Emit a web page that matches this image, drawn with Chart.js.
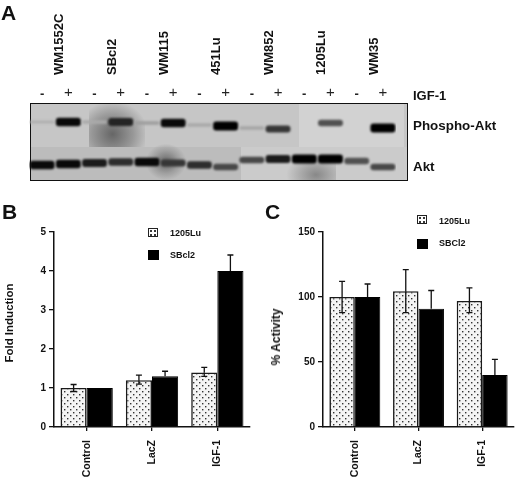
<!DOCTYPE html>
<html>
<head>
<meta charset="utf-8">
<script src="https://cdn.jsdelivr.net/npm/chart.js@4"></script>
<style>
    html, body { margin: 0; background: #fff; }
    body { position: relative; width: 520px; height: 479px; overflow: hidden; font-family: "Liberation Sans", Arial, sans-serif; font-weight: bold; color: #111; }
    .box { position: absolute; }
    .txt { position: absolute; white-space: nowrap; line-height: 1; }
    .up { transform: translate(-50%, -50%) rotate(-90deg); }
    #blot { position: absolute; left: 30px; top: 103px; width: 376px; height: 76px; border: 1.5px solid #111; overflow: hidden; background: #c6c6c6; }
    #blot div { position: absolute; }
</style>
</head>
<body>
<div id="blot">
    <div style="left:0;top:43px;width:210px;height:34px;background:#bcbcbc"></div>
    <div style="left:210px;top:43px;width:170px;height:34px;background:#cbcbcb"></div>
    <div style="left:268px;top:0;width:105px;height:43px;background:#d2d2d2"></div>
    <div style="left:58px;top:0;width:56px;height:43px;background:radial-gradient(ellipse at 42% 70%, #666 0%, #989898 45%, #c6c6c6 78%)"></div>
    <div style="left:115px;top:40px;width:40px;height:36px;background:radial-gradient(ellipse at 50% 50%, #666 0%, #a0a0a0 45%, rgba(180,180,180,0) 72%)"></div>
    <div style="left:255px;top:50px;width:50px;height:26px;background:radial-gradient(ellipse at 60% 80%, #888 0%, rgba(200,200,200,0) 70%)"></div>
</div>
<div class="box" style="left:0;top:0;width:520px;height:190px"><canvas id="chartA"></canvas></div>
<div class="box" style="left:0;top:195px;width:260px;height:284px"><canvas id="chartB"></canvas></div>
<div class="box" style="left:260px;top:195px;width:260px;height:284px"><canvas id="chartC"></canvas></div>
<div id="labels"></div>

<script>
const font = '"Liberation Sans", Arial, sans-serif';

// panel A
const cellLines = ['WM1552C', 'SBcl2', 'WM115', '451Lu', 'WM852', '1205Lu', 'WM35'];
const lanes = ['-', '+', '-', '+', '-', '+', '-', '+', '-', '+', '-', '+', '-', '+'];
const phosphoDensity = [0.03, 0.95, 0.05, 0.8, 0.12, 0.95, 0.06, 1, 0.08, 0.7, 0, 0.55, 0, 1];
const phosphoMigration = [19, 19, 19, 19, 20, 20, 22, 23, 25, 26, 20, 20, 22, 25];
const aktDensity = [0.95, 0.95, 0.85, 0.75, 0.95, 0.7, 0.75, 0.6, 0.6, 0.85, 1, 1, 0.55, 0.6];
const aktMigration = [62, 61, 60, 59, 59, 60, 62, 64, 57, 56, 56, 56, 58, 64];

// panel B
const categories = ['Control', 'LacZ', 'IGF-1'];
const foldTicks = [0, 1, 2, 3, 4, 5];
const fold1205 = [1, 1.2, 1.4];
const fold1205Hi = [1.09, 1.33, 1.53];
const fold1205Lo = [0.91, 1.1, 1.3];
const foldSB = [1, 1.3, 4];
const foldSBHi = [1, 1.43, 4.41];

// panel C
const activityTicks = [0, 50, 100, 150];
const activity1205 = [100, 104.5, 97];
const activity1205Hi = [112, 121, 107];
const activity1205Lo = [88, 88, 88];
const activitySB = [100, 91, 40];
const activitySBHi = [110, 105, 52];

function band(pos, density) {
    const half = 1.5 + 3 * density;
    return [pos - half, pos + half];
}
function bandColor(density) {
    const g = Math.round(180 - 180 * density);
    return 'rgb(' + g + ',' + g + ',' + g + ')';
}

const softBands = {
    id: 'softBands',
    beforeDatasetsDraw(chart) { chart.ctx.save(); chart.ctx.filter = 'blur(1.2px)'; },
    afterDatasetsDraw(chart) { chart.ctx.restore(); }
};

new Chart(document.getElementById('chartA'), {
    type: 'bar',
    data: {
        labels: lanes,
        datasets: [
            {
                label: 'Phospho-Akt',
                data: phosphoMigration.map((p, i) => band(p, phosphoDensity[i])),
                backgroundColor: phosphoDensity.map(d => d < 0.02 ? 'rgba(0,0,0,0)' : bandColor(d)),
                borderRadius: 3, borderSkipped: false
            },
            {
                label: 'Akt',
                data: aktMigration.map((p, i) => band(p, aktDensity[i])),
                backgroundColor: aktDensity.map(bandColor),
                borderRadius: 3, borderSkipped: false
            }
        ]
    },
    options: {
        responsive: true,
        maintainAspectRatio: false,
        animation: false,
        grouped: false,
        barPercentage: 0.95,
        categoryPercentage: 1,
        layout: { padding: { left: 29, right: 124, top: 0, bottom: 10 } },
        plugins: { legend: { display: false }, tooltip: { enabled: false } },
        scales: {
            x: {
                position: 'top', weight: 1,
                afterFit(s) { s.height = 28; },
                grid: { display: false, drawTicks: false, tickLength: 0 }, border: { display: false },
                ticks: {
                    autoSkip: false, maxRotation: 0, padding: 1, color: '#222',
                    font: ctx => lanes[ctx.index] === '+'
                        ? { family: font, size: 15, weight: 'normal' }
                        : { family: font, size: 13, weight: 'bold' }
                }
            },
            lines: {
                type: 'category', labels: cellLines, position: 'top', weight: 2,
                afterFit(s) { s.height = 75; },
                grid: { display: false, drawTicks: false, tickLength: 0 }, border: { display: false },
                ticks: {
                    autoSkip: false, minRotation: 90, maxRotation: 90, padding: 0, labelOffset: 20, color: '#111',
                    font: { family: font, size: 13, weight: 'bold' }
                }
            },
            y: { display: false, reverse: true, min: 0, max: 77 }
        }
    },
    plugins: [softBands]
});

// dotted fill of the 1205Lu bars
function dots() {
    const c = document.createElement('canvas');
    c.width = 6; c.height = 6;
    const g = c.getContext('2d');
    g.fillStyle = '#f4f4f4';
    g.fillRect(0, 0, 6, 6);
    g.fillStyle = '#333';
    g.fillRect(1, 1, 1.4, 1.4);
    g.fillRect(4, 4, 1.4, 1.4);
    return g.createPattern(c, 'repeat');
}

const errorBars = {
    id: 'errorBars',
    afterDatasetsDraw(chart, args, opts) {
        const ctx = chart.ctx, y = chart.scales.y;
        ctx.save();
        ctx.strokeStyle = '#111';
        ctx.lineWidth = 1.3;
        opts.series.forEach((s, d) => {
            chart.getDatasetMeta(d).data.forEach((bar, i) => {
                [s.hi, s.lo].forEach(arr => {
                    if (!arr || arr[i] === s.val[i]) return;
                    const py = y.getPixelForValue(arr[i]), p0 = y.getPixelForValue(s.val[i]);
                    ctx.beginPath();
                    ctx.moveTo(bar.x, p0); ctx.lineTo(bar.x, py);
                    ctx.moveTo(bar.x - 3, py); ctx.lineTo(bar.x + 3, py);
                    ctx.stroke();
                });
            });
        });
        ctx.restore();
    }
};

function panel(id, values1205, valuesSB, series, ticks, padRight, names) {
    const maxTick = ticks[ticks.length - 1];
    new Chart(document.getElementById(id), {
        type: 'bar',
        data: {
            labels: categories,
            datasets: [
                { label: names[0], data: values1205, backgroundColor: dots(), borderColor: '#1a1a1a', borderWidth: 1.6 },
                { label: names[1], data: valuesSB, backgroundColor: '#000', borderColor: '#000', borderWidth: 1 }
            ]
        },
        options: {
            responsive: true,
            maintainAspectRatio: false,
            animation: false,
            barPercentage: 1,
            categoryPercentage: 0.8,
            layout: { padding: { left: 0, right: padRight, top: 37, bottom: 0 } },
            plugins: { legend: { display: false }, tooltip: { enabled: false }, errorBars: { series: series } },
            scales: {
                x: {
                    afterFit(s) { s.height = 52; },
                    grid: { offset: false, drawOnChartArea: false, tickLength: 4, color: '#111', lineWidth: 1.3 },
                    border: { color: '#111', width: 1.5 },
                    ticks: { minRotation: 90, maxRotation: 90, autoSkip: false, padding: 9, color: '#111', font: { family: font, size: 10.5, weight: 'bold' } }
                },
                y: {
                    min: 0, max: maxTick,
                    afterFit(s) { s.width = id === 'chartB' ? 54 : 63; },
                    afterBuildTicks(s) { s.ticks = ticks.map(v => ({ value: v })); },
                    grid: { drawOnChartArea: false, tickLength: 5, color: '#111', lineWidth: 1.3 },
                    border: { color: '#111', width: 1.5 },
                    ticks: { padding: 3, color: '#111', font: { family: font, size: 10, weight: 'bold' } }
                }
            }
        },
        plugins: [errorBars]
    });
}

panel('chartB', fold1205, foldSB, [
    { val: fold1205, hi: fold1205Hi, lo: fold1205Lo },
    { val: foldSB, hi: foldSBHi }
], foldTicks, 10, ['1205Lu', 'SBcl2']);

panel('chartC', activity1205, activitySB, [
    { val: activity1205, hi: activity1205Hi, lo: activity1205Lo },
    { val: activitySB, hi: activitySBHi }
], activityTicks, 6, ['1205Lu', 'SBCl2']);

// panel letters, axis titles, legends
function addText(str, x, y, size, cls) {
    const d = document.createElement('div');
    d.className = 'txt ' + (cls || '');
    d.textContent = str;
    d.style.left = x + 'px';
    d.style.top = y + 'px';
    d.style.fontSize = size + 'px';
    document.getElementById('labels').appendChild(d);
}
function addSwatch(x, y, dotted) {
    const d = document.createElement('div');
    d.className = 'box';
    d.style.cssText = 'left:' + x + 'px;top:' + y + 'px;width:' + (dotted ? 8 : 11) + 'px;height:' + (dotted ? 7 : 10) + 'px;';
    d.style.background = dotted ? 'radial-gradient(circle, #333 0.7px, #fff 1px) 0 0/4px 4px' : '#000';
    if (dotted) d.style.border = '1.5px solid #222';
    document.getElementById('labels').appendChild(d);
}

addText('A', 1, 2, 21);
addText('B', 2, 201, 21);
addText('C', 265, 201, 21);
addText('IGF-1', 413, 89, 13);
addText('Phospho-Akt', 413, 119, 13.4);
addText('Akt', 413, 160, 13.4);
addText('Fold Induction', 10, 323, 11.5, 'up');
addText('% Activity', 276, 337, 12, 'up');

addSwatch(148, 228, true);
addSwatch(148, 250, false);
addText('1205Lu', 170, 229, 9);
addText('SBcl2', 170, 251, 9);

addSwatch(417, 215, true);
addSwatch(417, 239, false);
addText('1205Lu', 439, 217, 9);
addText('SBCl2', 439, 239, 9);
</script>
</body>
</html>
